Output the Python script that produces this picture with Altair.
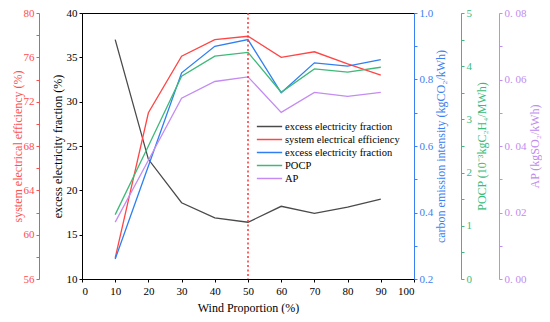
import altair as alt
import pandas as pd

wind = [10, 20, 30, 40, 50, 60, 70, 80, 90]
excess = [37.0, 23.5, 18.6, 16.9, 16.4, 18.2, 17.4, 18.1, 19.0]
efficiency = [57.9, 71.0, 76.1, 77.6, 77.9, 76.0, 76.5, 75.4, 74.4]
carbon = [0.26, 0.54, 0.82, 0.90, 0.92, 0.76, 0.85, 0.84, 0.86]
pocp = [1.21, 2.5, 3.81, 4.19, 4.26, 3.51, 3.95, 3.89, 3.98]
ap = [0.0171, 0.0357, 0.0544, 0.0594, 0.0608, 0.0501, 0.0561, 0.0549, 0.0561]

series_names = ["excess electricity fraction", "system electrical efficiency",
                "excess electricity fraction ", "POCP", "AP"]
line_colors = ["#4a4a4a", "#ff4545", "#2f7ff2", "#3dba78", "#c48cf2"]
vline = [50]

x_ticks = [0, 10, 20, 30, 40, 50, 60, 70, 80, 90, 100]
black_ticks = [10, 15, 20, 25, 30, 35, 40]
red_ticks = [56, 58, 60, 62, 64, 66, 68, 70, 72, 74, 76, 78, 80]
blue_ticks = [0.2, 0.3, 0.4, 0.5, 0.6, 0.7, 0.8, 0.9, 1.0]
green_ticks = [0, 0.5, 1, 1.5, 2, 2.5, 3, 3.5, 4, 4.5, 5]
purple_ticks = [0, 0.01, 0.02, 0.03, 0.04, 0.05, 0.06, 0.07, 0.08]

df = pd.DataFrame({"wind": wind, "excess": excess, "eff": efficiency,
                   "carbon": carbon, "pocp": pocp, "ap": ap})
vdf = pd.DataFrame({"wind": vline})

FONT = "Liberation Serif"

xenc = alt.X("wind:Q", scale=alt.Scale(domain=[0, 100], nice=False),
             axis=alt.Axis(values=x_ticks, title="Wind Proportion (%)", format="d",
                           tickSize=3, labelPadding=3, titlePadding=6,
                           domainColor="black", tickColor="black"))

color_scale = alt.Scale(domain=series_names, range=line_colors)
legend = alt.Legend(orient="none", legendX=181, legendY=107, title=None,
                    symbolType="M-2.3,0H2.3", symbolSize=121, symbolStrokeWidth=1.5,
                    labelFontSize=10.5, labelFont=FONT, labelOffset=9, rowPadding=1,
                    padding=0, labelColor="black")


def make_layer(field, name, domain, ticks, orient, offset, color, title, label_expr,
               fmt, tpad):
    baseline = "bottom" if orient == "left" else "top"
    return alt.Chart(df).transform_calculate(
        series=f"'{name}'"
    ).mark_line(strokeWidth=1.3).encode(
        x=xenc,
        y=alt.Y(f"{field}:Q", scale=alt.Scale(domain=domain, nice=False, zero=False),
                axis=alt.Axis(orient=orient, offset=offset, values=ticks, title=title,
                              format=fmt, labelExpr=label_expr,
                              domainColor=color, tickColor=color, labelColor=color,
                              titleColor=color, tickSize=3, labelPadding=2,
                              titlePadding=tpad, titleAngle=270,
                              titleBaseline=baseline)),
        color=alt.Color("series:N", scale=color_scale, legend=legend),
    )


black = make_layer("excess", series_names[0], [10, 40], black_ticks, "left", 0, "black",
                   "excess electricity fraction (%)", "datum.label", "d", 2)
red = make_layer("eff", series_names[1], [56, 80], red_ticks, "left", 43, "#ff4d4d",
                 "system electrical efficiency (%)",
                 "datum.value % 4 == 0 ? datum.label : ''", "d", -1)
blue = make_layer("carbon", series_names[2], [0.2, 1.0], blue_ticks, "right", 0, "#3a80f2",
                  "carbon emission intensity (kgCO₂/kWh)",
                  "round(datum.value * 10) % 2 == 0 ? datum.label : ''", ".1f", 3)
green = make_layer("pocp", series_names[3], [0, 5], green_ticks, "right", 47, "#3dbb7a",
                   "POCP (10⁻³kgC₂H₄/MWh)",
                   "datum.value % 1 == 0 ? format(datum.value, 'd') : ''", ".1f", 5)
purple = make_layer("ap", series_names[4], [0, 0.08], purple_ticks, "right", 85, "#c08cf0",
                    "AP (kgSO₂/kWh)",
                    "round(datum.value * 100) % 2 == 0 ? replace(format(datum.value, '.2f'), '.', '. ') : ''",
                    ".2f", 3)

rule = alt.Chart(vdf).mark_rule(color="#ff3030", strokeDash=[2, 2.5], strokeWidth=1.5).encode(
    x=xenc)

chart = alt.layer(black, red, blue, green, purple, rule).resolve_scale(
    y="independent"
).properties(
    width=332, height=266,
    autosize=alt.AutoSizeParams(type="none"),
    padding={"left": 74, "top": 5, "right": 128, "bottom": 35},
).configure_view(
    stroke="black", strokeWidth=1
).configure_axis(
    grid=False, labelFont=FONT, titleFont=FONT, labelFontSize=11, titleFontSize=12,
    titleFontWeight="normal"
)

chart.save("out.html", embed_options={"renderer": "svg", "actions": False})
